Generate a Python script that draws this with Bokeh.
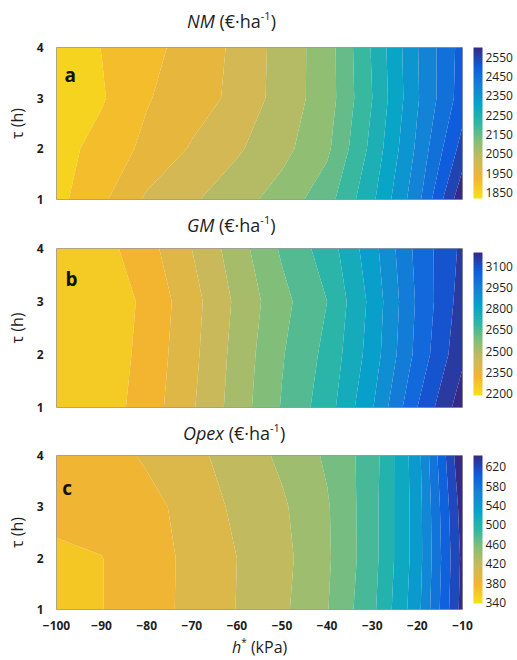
import numpy as np
from bokeh.plotting import figure
from bokeh.models import Range1d, FixedTicker, ColorBar, LinearColorMapper, Label, Div
from bokeh.layouts import column
from bokeh.embed import file_html
from bokeh.resources import INLINE

# ---------------- data ----------------
H = [-100, -90, -80, -70, -60, -50, -40, -30, -20, -10]   # h* (kPa)
TAU = [1, 2, 3, 4]                                         # tau (h)

# rows: tau = 1, 2, 3, 4
NM = [
    [1835, 1890, 1958, 1993, 2030, 2071, 2130, 2240, 2383, 2590],
    [1830, 1868, 1912, 1955, 1993, 2035, 2090, 2215, 2360, 2520],
    [1828, 1845, 1896, 1928, 1962, 2022, 2075, 2200, 2345, 2475],
    [1822, 1851, 1884, 1920, 1960, 2020, 2076, 2205, 2348, 2470],
]
GM = [
    [2192, 2215, 2280, 2372, 2475, 2580, 2675, 2830, 3030, 3200],
    [2190, 2207, 2272, 2362, 2468, 2570, 2658, 2800, 2985, 3145],
    [2190, 2203, 2265, 2355, 2458, 2555, 2640, 2790, 2975, 3125],
    [2195, 2225, 2290, 2380, 2480, 2585, 2670, 2810, 2985, 3110],
]
OPEX = [
    [350, 359.5, 371, 385.5, 400.5, 416, 439, 475, 533, 628],
    [356, 359.5, 371, 385, 400, 414, 437, 472, 530, 625],
    [366, 368, 373, 388, 404, 417, 438, 472, 530, 630],
    [368, 370, 383, 395, 408, 424, 443, 470, 532, 640],
]

NM_LEVELS = [1850, 1900, 1950, 2000, 2050, 2100, 2150, 2200, 2250, 2300, 2350, 2400, 2450, 2500, 2550]
GM_LEVELS = [2250, 2315, 2380, 2445, 2510, 2575, 2640, 2705, 2770, 2835, 2900, 2965, 3030, 3095, 3160]
OPEX_LEVELS = [360, 380, 400, 420, 440, 460, 480, 500, 520, 540, 560, 580, 600, 620]

NM_CLIM = (1820, 2600)
GM_CLIM = (2185, 3200)
OPEX_CLIM = (338, 643)

NM_TICKS = [1850, 1950, 2050, 2150, 2250, 2350, 2450, 2550]
GM_TICKS = [2200, 2350, 2500, 2650, 2800, 2950, 3100]
OPEX_TICKS = [340, 380, 420, 460, 500, 540, 580, 620]

X_TICKS = [-100, -90, -80, -70, -60, -50, -40, -30, -20, -10]
Y_TICKS = [1, 2, 3, 4]

# parula-like map (dark blue -> yellow), as seen in the picture
PARULA = ["#352A87", "#0F5CDD", "#1481D6", "#06A4CA", "#2EB7A4",
          "#87BF77", "#CDB95A", "#F4B52F", "#F5E018"]

FONT = "Open Sans"
TXT = "#1e1e1e"


def _rgb(h):
    h = h.lstrip("#")
    return [int(h[i:i + 2], 16) for i in (0, 2, 4)]


def cmap(t):
    """reversed parula: t=0 -> yellow, t=1 -> dark blue"""
    t = min(max(t, 0.0), 1.0)
    s = (1.0 - t) * (len(PARULA) - 1)
    i = int(np.floor(s))
    if i >= len(PARULA) - 1:
        i = len(PARULA) - 2
    f = s - i
    a, b = _rgb(PARULA[i]), _rgb(PARULA[i + 1])
    c = [round(a[k] + (b[k] - a[k]) * f) for k in range(3)]
    return "#%02x%02x%02x" % tuple(c)


def make_panel(z, levels, clim, cticks, height, top, bottom, cb_height, cb_yoff, xaxis):
    z = np.array(z, dtype=float)
    lo, hi = clim
    bounds = [min(z.min(), lo) - 1] + list(levels) + [max(z.max(), hi) + 1]
    colors = [cmap((min(b, hi) - lo) / (hi - lo)) for b in bounds[1:]]

    p = figure(width=517, height=height, output_backend="svg", toolbar_location=None,
               x_range=Range1d(-100, -10), y_range=Range1d(1, 4),
               min_border_left=56, min_border_right=55,
               min_border_top=top, min_border_bottom=bottom,
               x_axis_location="below" if xaxis else None)
    p.grid.visible = False
    p.outline_line_color = "#9a9a9a"
    p.outline_line_width = 1
    p.background_fill_color = "white"
    p.border_fill_color = "white"

    cr = p.contour(H, TAU, z, levels=bounds, fill_color=colors, line_color=None)
    try:
        cr.fill_renderer.glyph.line_color = cr.fill_renderer.glyph.fill_color
        cr.fill_renderer.glyph.line_width = 0.6
    except Exception:
        pass

    ya = p.yaxis[0]
    ya.ticker = FixedTicker(ticks=Y_TICKS)
    ya.axis_label = "τ (h)"
    ya.axis_label_text_font = FONT
    ya.axis_label_text_font_size = "16px"
    ya.axis_label_text_font_style = "normal"
    ya.axis_label_text_color = TXT
    ya.axis_label_standoff = 6
    ya.major_label_text_font = FONT
    ya.major_label_text_font_size = "12px"
    ya.major_label_text_font_style = "bold"
    ya.major_label_text_color = TXT
    ya.major_label_standoff = 13
    ya.major_tick_in = 0
    ya.major_tick_out = 0
    ya.minor_tick_in = 0
    ya.minor_tick_out = 0
    ya.axis_line_color = None
    ya.major_tick_line_color = None
    ya.minor_tick_line_color = None

    if xaxis:
        xa = p.xaxis[0]
        xa.ticker = FixedTicker(ticks=X_TICKS)
        xa.major_label_text_font = FONT
        xa.major_label_text_font_size = "12px"
        xa.major_label_text_font_style = "bold"
        xa.major_label_text_color = TXT
        xa.major_label_standoff = 11
        xa.major_tick_in = 0
        xa.major_tick_out = 0
        xa.minor_tick_in = 0
        xa.minor_tick_out = 0
        xa.axis_line_color = None
        xa.major_tick_line_color = None
        xa.minor_tick_line_color = None

    pal = [cmap(t) for t in np.linspace(0, 1, 96)]
    mapper = LinearColorMapper(palette=pal, low=lo, high=hi)
    cb = ColorBar(color_mapper=mapper, ticker=FixedTicker(ticks=cticks),
                  width=9, height=cb_height, padding=0, margin=0,
                  location=(11, cb_yoff),
                  label_standoff=3, major_label_text_font=FONT,
                  major_label_text_font_size="12px", major_label_text_color=TXT,
                  major_tick_line_color=None, minor_tick_line_color=None,
                  bar_line_color=None, border_line_color=None,
                  background_fill_color=None)
    p.add_layout(cb, "right")
    return p


def add_letter(p, letter, x, y):
    p.add_layout(Label(x=x, y=y, text=letter, text_align="left", text_baseline="alphabetic",
                       text_font=FONT, text_font_size="19px", text_font_style="bold",
                       text_color="#111111"))


def title_div(italic_txt, left, top_pad, height):
    html = ('<span style="font-style:italic">%s</span> (€·ha'
            '<span style="font-size:11px;position:relative;top:-8px">-1</span>)' % italic_txt)
    return Div(text=html, width=517, height=height, margin=(0, 0, 0, 0),
               styles={"font-family": FONT, "font-size": "18px", "color": TXT,
                       "line-height": "22px", "padding-left": "%dpx" % left,
                       "padding-top": "%dpx" % top_pad, "white-space": "nowrap",
                       "box-sizing": "border-box"})


ta = title_div("NM", 187, 10, 35)
pa = make_panel(NM, NM_LEVELS, NM_CLIM, NM_TICKS, 175, 12, 11, 151, 1, False)
add_letter(pa, "a", -98.2, 3.45)

tb = title_div("GM", 187, 4, 28)
pb = make_panel(GM, GM_LEVELS, GM_CLIM, GM_TICKS, 182, 10, 13, 143, 12, False)
add_letter(pb, "b", -98.0, 3.43)

tc = title_div("Opex", 183, 2, 26)
pc = make_panel(OPEX, OPEX_LEVELS, OPEX_CLIM, OPEX_TICKS, 189, 9, 26, 148, 6, True)
add_letter(pc, "c", -98.7, 3.36)

xl = Div(text='<span style="font-style:italic">h</span>'
              '<span style="font-size:10px;position:relative;top:-7px">*</span> (kPa)',
         width=517, height=24, margin=(0, 0, 0, 0),
         styles={"font-family": FONT, "font-size": "16px", "color": TXT,
                 "line-height": "18px", "padding-left": "232px", "padding-top": "3px",
                 "white-space": "nowrap", "box-sizing": "border-box"})

layout = column(ta, pa, tb, pb, tc, pc, xl, spacing=0)
open("out.html", "w").write(file_html(layout, INLINE))
